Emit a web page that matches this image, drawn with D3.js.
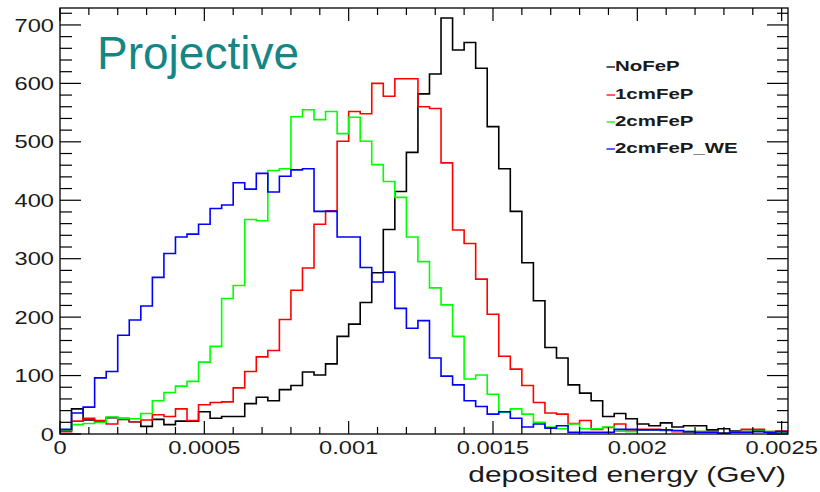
<!DOCTYPE html>
<html><head><meta charset="utf-8">
<script src="https://cdn.jsdelivr.net/npm/d3@7"></script>
<style>body{margin:0;background:#fff}</style>
</head><body>
<script>
// ---- data ----
const binWidth = 0.00004;
const seriesNames = ["NoFeP", "1cmFeP", "2cmFeP", "2cmFeP_WE"];
const seriesColors = ["#000000", "#ff0000", "#00ff00", "#0000ff"];
const noFeP = [6,43,24,21,28,25,21,13,25,16,22,22,38,27,30,30,52,63,57,76,83,106,101,120,167,188,225,276,350,415,482,582,616,712,657,670,626,526,454,381,293,228,148,130,84,70,57,30,35,26,17,14,19,12,14,14,7,9,5,4,5,3,4];
const cm1FeP = [4,22,27,23,17,27,21,24,33,30,43,23,50,54,55,79,107,132,143,196,246,284,359,382,501,552,548,600,578,608,608,560,557,464,349,326,265,205,133,111,83,54,36,34,18,23,8,11,17,7,8,8,6,4,3,4,3,2,3,8,8,4,5];
const cm2FeP = [7,16,18,20,29,26,26,35,57,71,82,90,123,150,232,254,367,365,451,454,543,555,538,552,514,542,501,461,432,405,337,295,250,221,167,94,101,68,37,43,34,20,12,9,17,9,9,12,5,4,7,7,7,5,4,4,3,1,3,4,5,4,3];
const cm2FeP_WE = [8,36,46,96,107,169,195,219,268,309,337,342,359,386,392,430,419,446,414,441,452,454,381,381,337,337,285,260,277,215,181,194,130,99,84,57,47,34,38,27,12,17,10,14,3,3,3,3,8,8,7,7,7,6,4,3,3,1,3,3,4,3,4];
const xTickValues = [0, 0.0005, 0.001, 0.0015, 0.002, 0.0025];
const xTickLabels = ["0", "0.0005", "0.001", "0.0015", "0.002", "0.0025"];
const yTickValues = [0, 100, 200, 300, 400, 500, 600, 700];
const xTitle = "deposited energy (GeV)";
const plotLabel = "Projective";

const allSeries = [noFeP, cm1FeP, cm2FeP, cm2FeP_WE];

// ---- layout ----
const W = 820, H = 492;
const L = 60, R = 788, T = 8, B = 434;
const SX = 1.28; // horizontal stretch of the original picture
const font = "'Liberation Sans', Arial, Helvetica, sans-serif";

const svg = d3.select("body").append("svg").attr("width", W).attr("height", H);

const x = d3.scaleLinear().domain([0, 0.002522]).range([L, R]);
const y = d3.scaleLinear().domain([0, 729]).range([B, T]);

svg.append("clipPath").attr("id", "clip").append("rect")
  .attr("x", L).attr("y", T).attr("width", R - L).attr("height", B - T);

// histograms
const g = svg.append("g").attr("clip-path", "url(#clip)");
allSeries.forEach((vals, i) => {
  const pts = [[x(0), y(0)]];
  vals.forEach((v, k) => {
    pts.push([x(k * binWidth), y(v)]);
    pts.push([x((k + 1) * binWidth), y(v)]);
  });
  pts.push([x(vals.length * binWidth), y(0)]);
  g.append("path")
    .attr("d", d3.line()(pts))
    .attr("fill", "none")
    .attr("stroke", seriesColors[i])
    .attr("stroke-width", 1.6)
    .attr("stroke-linejoin", "miter");
});

// frame
svg.append("rect").attr("x", L).attr("y", T).attr("width", R - L).attr("height", B - T)
  .attr("fill", "none").attr("stroke", "#000").attr("stroke-width", 1.3);

// x ticks (bottom and top, inside)
const xMinor = d3.range(0, 0.0025 + 1e-9, 0.0001);
const axG = svg.append("g").attr("stroke", "#000").attr("stroke-width", 1.2);
xMinor.forEach((v, i) => {
  const major = (i % 5 === 0);
  const len = major ? 13 : 7;
  axG.append("line").attr("x1", x(v)).attr("x2", x(v)).attr("y1", B).attr("y2", B - len);
  axG.append("line").attr("x1", x(v)).attr("x2", x(v)).attr("y1", T).attr("y2", T + len);
});
// y ticks (left and right, inside)
const yMinor = d3.range(0, 721, 20);
yMinor.forEach((v, i) => {
  const major = (v % 100 === 0);
  const lenL = major ? 21 : 12;
  const lenR = major ? 21 : 11;
  axG.append("line").attr("x1", L).attr("x2", L + lenL).attr("y1", y(v)).attr("y2", y(v));
  axG.append("line").attr("x1", R).attr("x2", R - lenR).attr("y1", y(v)).attr("y2", y(v));
});

// tick labels
xTickValues.forEach((v, i) => {
  svg.append("text")
    .attr("transform", `translate(${x(v)},454) scale(${SX},1)`)
    .attr("text-anchor", "middle")
    .attr("font-family", font).attr("font-size", 18.5).attr("fill", "#1a1a1a")
    .text(xTickLabels[i]);
});
yTickValues.forEach(v => {
  svg.append("text")
    .attr("transform", `translate(54,${y(v) + 6.6}) scale(${SX},1)`)
    .attr("text-anchor", "end")
    .attr("font-family", font).attr("font-size", 18.5).attr("fill", "#1a1a1a")
    .text(String(v));
});

// axis title
svg.append("text")
  .attr("transform", `translate(786,482) scale(1.33,1)`)
  .attr("text-anchor", "end")
  .attr("font-family", font).attr("font-size", 22.5).attr("fill", "#1a1a1a")
  .text(xTitle);

// legend
const legY = [65, 93, 120, 147];
seriesNames.forEach((name, i) => {
  svg.append("line").attr("x1", 606.5).attr("x2", 615)
    .attr("y1", legY[i] + 2).attr("y2", legY[i] + 2)
    .attr("stroke", seriesColors[i]).attr("stroke-width", 1.3);
  svg.append("text")
    .attr("transform", `translate(615,${legY[i] + 5.5}) scale(1.32,1)`)
    .attr("font-family", font).attr("font-size", 15.5).attr("font-weight", "bold")
    .attr("fill", "#1a1a1a")
    .text(name);
});

// overlay label
svg.append("text")
  .attr("x", 97).attr("y", 68.5)
  .attr("font-family", font).attr("font-size", 46).attr("fill", "#148686")
  .text(plotLabel);
</script>
</body></html>
